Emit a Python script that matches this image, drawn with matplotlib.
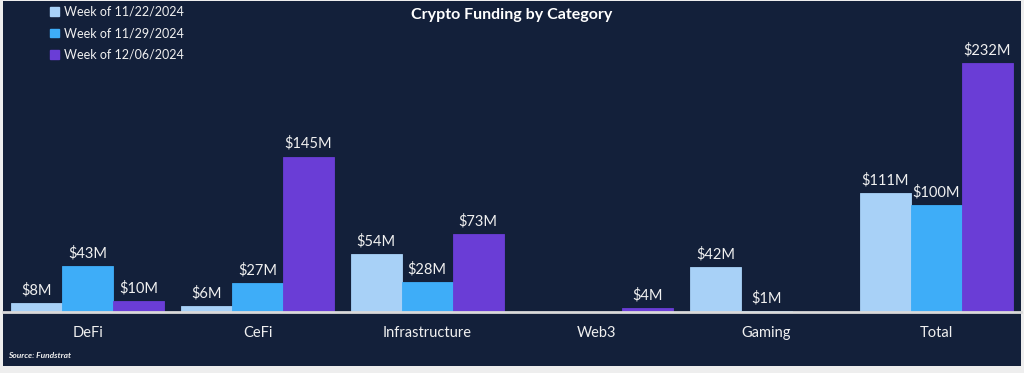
import matplotlib
matplotlib.use("Agg")
import matplotlib.pyplot as plt
from matplotlib.patches import Rectangle, Patch
import numpy as np

categories = ["DeFi", "CeFi", "Infrastructure", "Web3", "Gaming", "Total"]
series_names = ["Week of 11/22/2024", "Week of 11/29/2024", "Week of 12/06/2024"]
week_1122 = [8, 6, 54, 0, 42, 111]
week_1129 = [43, 27, 28, 0, 1, 100]
week_1206 = [10, 145, 73, 4, 0, 232]
series_values = [week_1122, week_1129, week_1206]
colors = ["#a8d1f7", "#3eadf8", "#6a3dd6"]

BG = "#13203a"
TXT = "#f0f0f0"
plt.rcParams['font.family'] = ['Lato', 'DejaVu Sans']

fig = plt.figure(figsize=(10.24, 3.73), dpi=100)
fig.patch.set_facecolor("#eeeeee")
bgrect = Rectangle((3/1024, 7/373), 1018/1024, 365/373,
                   transform=fig.transFigure, facecolor=BG,
                   edgecolor="none", zorder=-10)
fig.add_artist(bgrect)

ax = fig.add_axes([3/1024, 61/373, 1018/1024, 311/373])
ax.set_zorder(1)
ax.set_facecolor("none")
x = np.arange(len(categories))
w = 0.30
for i, (vals, col) in enumerate(zip(series_values, colors)):
    pos = x + (i - 1) * w
    bars = ax.bar(pos, vals, width=w, color=col, edgecolor=col, linewidth=0.6,
                  label=series_names[i], zorder=2)
    for b, v in zip(bars, vals):
        if v > 0:
            ax.annotate(f"${v}M", (b.get_x() + b.get_width() / 2, v),
                        xytext=(0, 4), textcoords="offset points",
                        ha="center", va="bottom", color=TXT, fontsize=10.5)

ax.set_xlim(-0.5, len(categories) - 0.5)
ax.set_ylim(0, 290)
ax.set_yticks([])
ax.set_xticks(x)
ax.set_xticklabels(categories, color=TXT, fontsize=10.5)
ax.tick_params(axis="x", length=0, pad=10)
for s in ["top", "right", "left"]:
    ax.spines[s].set_visible(False)
ax.spines["bottom"].set_color("#d9d9d9")
ax.spines["bottom"].set_linewidth(2)

fig.text(0.5, 1 - 15/373, "Crypto Funding by Category", ha="center", va="center",
         color="white", fontsize=11.5, fontweight="bold", zorder=5)

handles = [Patch(facecolor=c, edgecolor=c) for c in colors]
leg = fig.legend(handles, series_names, loc="upper left",
                 bbox_to_anchor=(50/1024, 1 - 6/373), frameon=False,
                 fontsize=9, labelcolor=TXT, handlelength=0.7,
                 handleheight=0.7, handletextpad=0.4, labelspacing=0.75,
                 borderpad=0, borderaxespad=0)
leg.set_zorder(5)

fig.text(8/1024, 1 - 355/373, "Source: Fundstrat", ha="left", va="center",
         color=TXT, fontsize=6, fontweight="bold", fontstyle="italic", zorder=5)

fig.savefig("out.png", dpi=100, facecolor=fig.get_facecolor())
